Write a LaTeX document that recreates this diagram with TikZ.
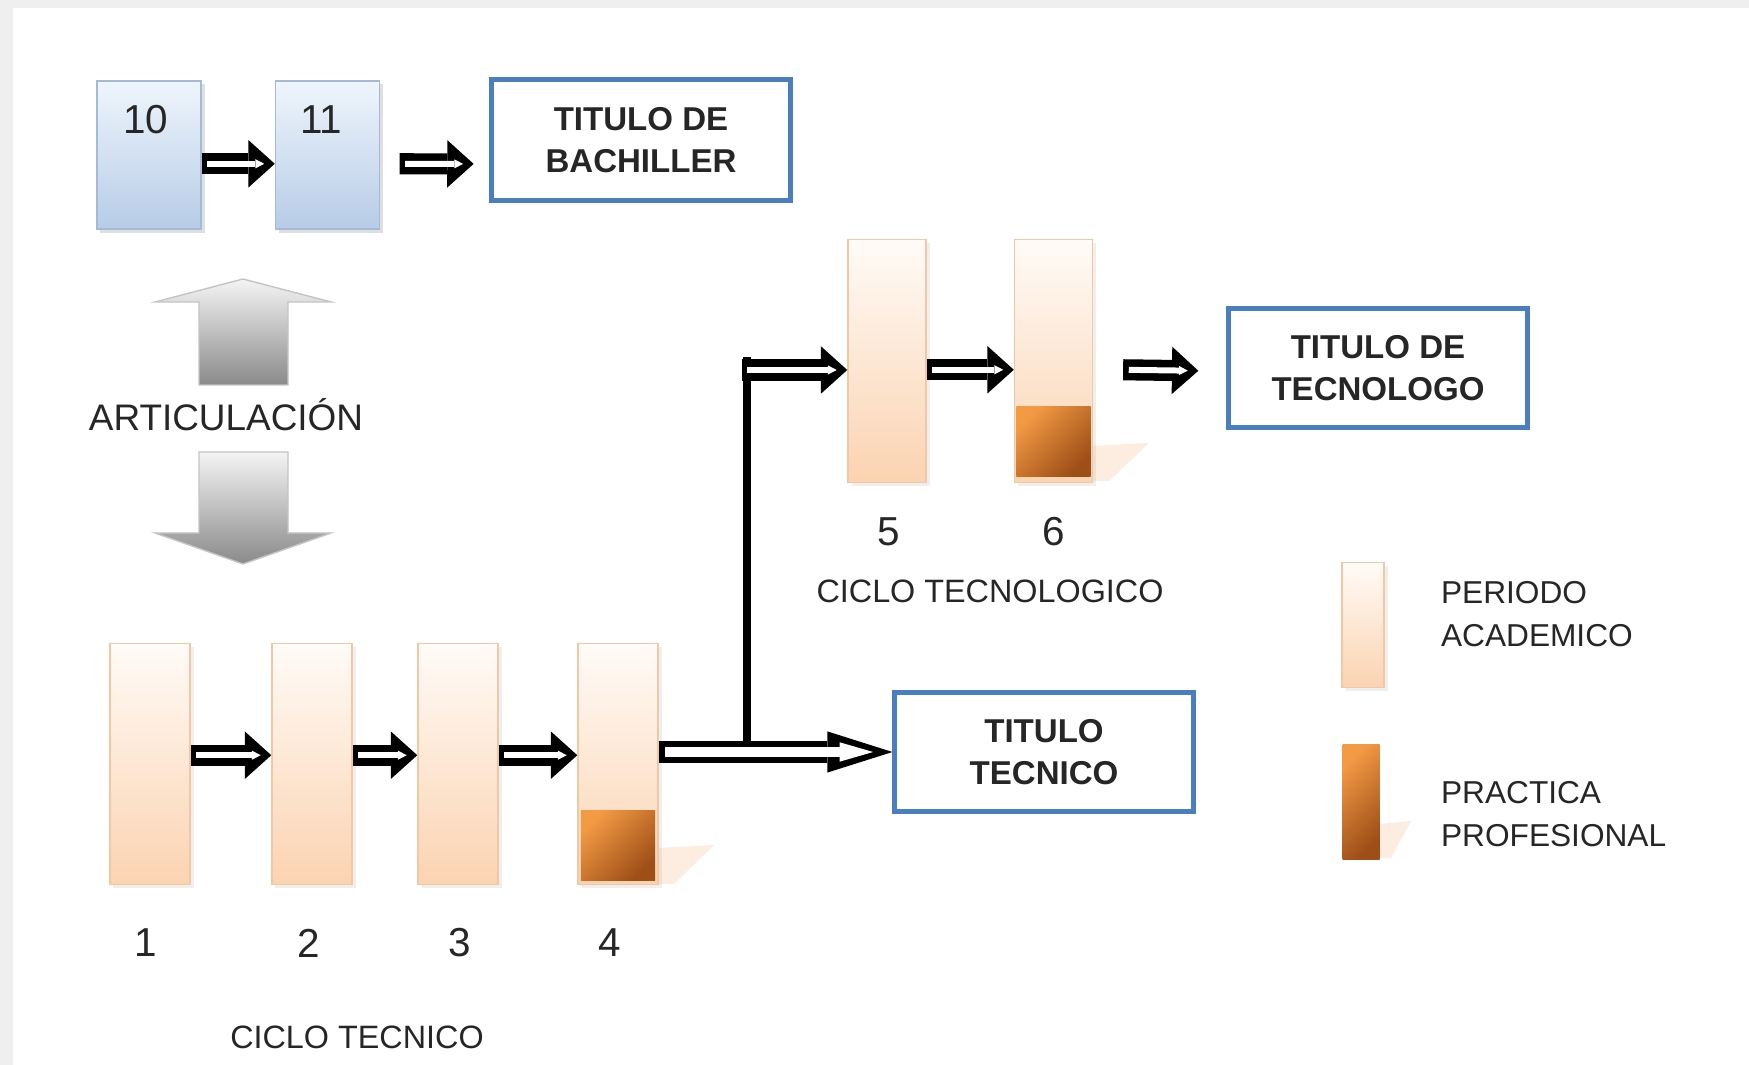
\documentclass[tikz,border=0pt]{standalone}
\usepackage{fontspec}
\setmainfont{Liberation Sans}
\usetikzlibrary{arrows.meta,positioning,shadows}
\definecolor{bluetop}{HTML}{EFF5FC}
\definecolor{bluebot}{HTML}{B7CCE7}
\definecolor{blueline}{HTML}{A3BAD8}
\definecolor{titleblue}{HTML}{4A7EBF}
\definecolor{peachtop}{HTML}{FFFBF7}
\definecolor{peachbot}{HTML}{FBD3B1}
\definecolor{peachline}{HTML}{F3C7A4}
\definecolor{practop}{HTML}{F39A45}
\definecolor{pracbot}{HTML}{9E4E17}
\definecolor{ghost}{HTML}{FDEDE0}
\definecolor{greylight}{HTML}{F4F4F4}
\definecolor{greydark}{HTML}{8A8A8A}
\definecolor{greyline}{HTML}{C4C4C4}
\definecolor{framegrey}{HTML}{EFEFEF}
\definecolor{txt}{HTML}{262626}

\begin{document}
\begin{tikzpicture}[x=0.01cm,y=-0.01cm,semithick]
  \tikzstyle{bluebox}=[draw=blueline,thin,top color=bluetop,bottom color=bluebot,minimum width=1.04cm,minimum height=1.48cm,inner sep=0pt,drop shadow={shadow xshift=1pt,shadow yshift=-1pt,opacity=.25}]
  \tikzstyle{period}=[draw=peachline,thin,top color=peachtop,bottom color=peachbot,minimum width=0.8cm,minimum height=2.41cm,inner sep=0pt,drop shadow={shadow xshift=1pt,shadow yshift=-1pt,opacity=.12}]
  \tikzstyle{practice}=[top color=practop,bottom color=pracbot,shading angle=45,minimum width=0.74cm,minimum height=0.7cm,inner sep=0pt]
  \tikzstyle{titlebox}=[draw=titleblue,line width=1.4pt,minimum width=2.98cm,minimum height=1.19cm,align=center,text=txt,font=\bfseries\fontsize{9.4}{12}\selectfont]
  \tikzstyle{num}=[text=txt,inner sep=0pt,font=\fontsize{11.5}{14}\selectfont]
  \tikzstyle{cyclename}=[text=txt,inner sep=0pt,font=\fontsize{9.2}{12}\selectfont]
  \tikzstyle{legendtext}=[text=txt,inner sep=0pt,anchor=west,align=left,font=\fontsize{9}{12.3}\selectfont]
  \tikzstyle{hollow}=[line width=6pt,-{Triangle[length=7.5pt,width=13.5pt,line width=0pt]},
    postaction={draw,white,line width=1.7pt,shorten <=1.6pt,shorten >=3pt,-{Triangle[length=2.5pt,width=2.6pt,line width=0pt]}}]
  \tikzstyle{bighollow}=[line width=6.5pt,-{Triangle[length=18.5pt,width=11.7pt,line width=0pt]},
    postaction={draw,white,line width=2.6pt,shorten <=1.8pt,shorten >=5.5pt,-{Triangle[length=9.5pt,width=5.5pt,line width=0pt]}}]

  \useasboundingbox (0,0) rectangle (1749,1065);
  \fill[framegrey] (0,0) rectangle (1749,1065);
  \fill[white] (13,8) rectangle (1749,1065);

  % bachillerato
  \node[bluebox] (B10) at (149,155) {};
  \node[bluebox] (B11) [right=0.73cm of B10] {};
  \node[num] (N10) at (146,120) {10};
  \node[num] (N11) at (321,120) {11};
  \node[titlebox,minimum height=1.21cm] (TB) at (641,140) {TITULO DE\\BACHILLER};

  % articulacion
  \path[draw=greyline,thin,top color=greylight,bottom color=greydark]
    (243,279) -- (331,302) -- (288,302) -- (288,385) -- (199,385) -- (199,302) -- (155,302) -- cycle;
  \node[text=txt,inner sep=0pt,font=\fontsize{10.5}{13}\selectfont] (AR) at (226,415) {ARTICULACIÓN};
  \path[draw=greyline,thin,top color=greylight,bottom color=greydark]
    (199,452) -- (288,452) -- (288,533) -- (331,533) -- (243,564) -- (155,533) -- (199,533) -- cycle;

  % reflejos
  \fill[ghost] (658,848) -- (714,845) -- (674,884) -- (658,884) -- cycle;
  \fill[ghost] (1091,446) -- (1149,443) -- (1109,481) -- (1091,481) -- cycle;
  \fill[ghost] (1380,824) -- (1411,821) -- (1391,858) -- (1380,858) -- cycle;

  % ciclo tecnico
  \node[period] (B1) at (150,764) {};
  \node[period] (B2) at (312,764) {};
  \node[period] (B3) at (458,764) {};
  \node[period] (B4) at (618,764) {};
  \node[practice,anchor=south] (P4) at ([yshift=1.1pt]B4.south) {};
  \node[num] (N1) at (146,943) {1};
  \node[num] (N2) at (309,943) {2};
  \node[num] (N3) at (460,943) {3};
  \node[num] (N4) at (610,943) {4};
  \node[cyclename] (CT) at (357,1037) {CICLO TECNICO};

  % ciclo tecnologico
  \node[period,minimum width=0.78cm,minimum height=2.43cm] (B5) at (887,361) {};
  \node[period,minimum width=0.78cm,minimum height=2.43cm] (B6) [right=0.87cm of B5] {};
  \node[practice,anchor=south] (P6) at ([yshift=1.7pt]B6.south) {};
  \node[num] (N5) at (889,532) {5};
  \node[num] (N6) at (1054,532) {6};
  \node[cyclename] (CG) at (990,591) {CICLO TECNOLOGICO};

  \node[titlebox] (TT) at (1378,368) {TITULO DE\\TECNOLOGO};
  \node[titlebox] (TC) at (1044,752) {TITULO\\TECNICO};

  % leyenda
  \node[period,minimum width=0.42cm,minimum height=1.25cm] (LA) at (1363,625) {};
  \node[practice,minimum width=0.37cm,minimum height=1.15cm] (LP) at (1361,802) {};
  \node[legendtext] (LAT) at (1440,614) {PERIODO\\ACADEMICO};
  \node[legendtext] (LPT) at (1440,814) {PRACTICA\\PROFESIONAL};

  % flechas
  \draw[hollow] ([yshift=-2.5pt]B10.east) -- ([yshift=-2.5pt]B11.west);
  \draw[hollow] ([xshift=5.5pt,yshift=-2.5pt]B11.east) -- ([xshift=-4.5pt,yshift=-6.8pt]TB.west);
  \path ([yshift=2.5pt]B1.east) edge[hollow] ([yshift=2.5pt]B2.west)
        ([yshift=2.5pt]B2.east) edge[hollow] ([yshift=2.5pt]B3.west)
        ([yshift=2.5pt]B3.east) edge[hollow] ([yshift=2.5pt]B4.west);
  \draw[bighollow] (B4.east |- TC.west) -- (TC.west);

  \coordinate (FORK) at (747,745);
  \coordinate (BEND) at (747,370);
  \draw[line width=2pt] (FORK) -- ([yshift=3.7pt]BEND);
  \draw[hollow] ([xshift=-1.5pt]BEND) -- (BEND -| B5.west);
  \draw[hollow] ([yshift=-2.5pt]B5.east) -- ([yshift=-2.5pt]B6.west);
  \draw[hollow] ([xshift=8.5pt,yshift=-2.5pt]B6.east) -- ([xshift=-8pt,yshift=-0.8pt]TT.west);
\end{tikzpicture}
\end{document}
